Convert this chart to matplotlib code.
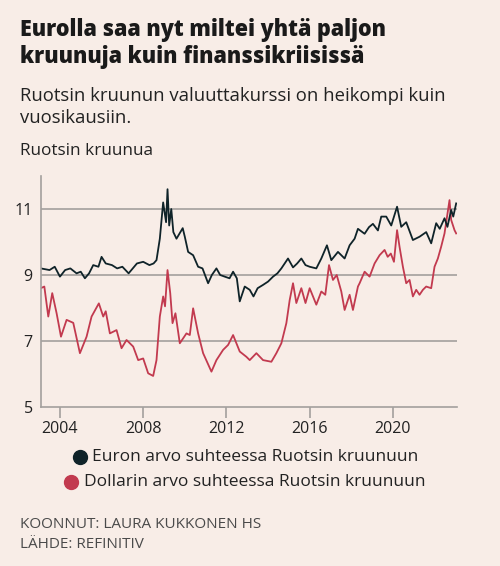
import matplotlib.pyplot as plt
from matplotlib.lines import Line2D

# Euro vs SEK
eur_year = [2003.08, 2003.5, 2003.75, 2004.0, 2004.25, 2004.5, 2004.8, 2005.0, 2005.2, 2005.4,
            2005.6, 2005.85, 2006.0, 2006.2, 2006.5, 2006.75, 2007.0, 2007.3, 2007.5, 2007.7,
            2008.0, 2008.3, 2008.5, 2008.64, 2008.8, 2008.96, 2009.1, 2009.17, 2009.25, 2009.35,
            2009.45, 2009.6, 2009.9, 2010.0, 2010.16, 2010.4, 2010.64, 2010.85, 2011.12, 2011.3,
            2011.52, 2011.7, 2011.92, 2012.15, 2012.32, 2012.5, 2012.64, 2012.88, 2013.12, 2013.3,
            2013.5, 2013.76, 2014.0, 2014.24, 2014.45, 2014.64, 2014.96, 2015.2, 2015.4, 2015.6,
            2015.8, 2016.0, 2016.32, 2016.56, 2016.83, 2017.04, 2017.36, 2017.68, 2017.92, 2018.16,
            2018.32, 2018.64, 2018.85, 2019.04, 2019.28, 2019.44, 2019.68, 2019.92, 2020.2, 2020.4,
            2020.64, 2020.96, 2021.28, 2021.6, 2021.84, 2022.08, 2022.25, 2022.48, 2022.62, 2022.8,
            2022.9, 2023.04]
eur_sek = [9.2, 9.15, 9.25, 8.95, 9.15, 9.2, 9.05, 9.1, 8.9, 9.05,
           9.3, 9.25, 9.55, 9.35, 9.3, 9.2, 9.25, 9.05, 9.2, 9.35,
           9.4, 9.3, 9.35, 9.45, 10.1, 11.2, 10.6, 11.6, 10.5, 11.0,
           10.3, 10.1, 10.42, 10.16, 9.7, 9.6, 9.25, 9.2, 8.75, 9.0,
           9.2, 9.0, 8.95, 8.9, 9.1, 8.9, 8.2, 8.65, 8.55, 8.35,
           8.6, 8.7, 8.8, 8.95, 9.05, 9.2, 9.5, 9.23, 9.35, 9.5,
           9.3, 9.25, 9.2, 9.5, 9.9, 9.45, 9.7, 9.5, 9.9, 10.1,
           10.4, 10.25, 10.45, 10.55, 10.35, 10.77, 10.77, 10.5, 11.07, 10.46,
           10.6, 10.06, 10.16, 10.3, 9.96, 10.57, 10.4, 10.72, 10.46, 10.97,
           10.77, 11.17]

# US dollar vs SEK
usd_year = [2003.08, 2003.25, 2003.44, 2003.63, 2003.84, 2004.05, 2004.32, 2004.64, 2004.96, 2005.28,
            2005.52, 2005.87, 2006.08, 2006.2, 2006.4, 2006.72, 2006.96, 2007.2, 2007.52, 2007.76,
            2008.0, 2008.24, 2008.48, 2008.64, 2008.8, 2008.96, 2009.05, 2009.17, 2009.3, 2009.41,
            2009.55, 2009.76, 2010.08, 2010.24, 2010.4, 2010.64, 2010.88, 2011.28, 2011.52, 2011.84,
            2012.08, 2012.32, 2012.64, 2012.96, 2013.12, 2013.44, 2013.76, 2014.16, 2014.4, 2014.64,
            2014.88, 2015.04, 2015.2, 2015.36, 2015.6, 2015.8, 2016.0, 2016.32, 2016.56, 2016.75,
            2016.93, 2017.12, 2017.3, 2017.52, 2017.68, 2017.92, 2018.08, 2018.32, 2018.4, 2018.64,
            2018.88, 2019.12, 2019.36, 2019.6, 2019.75, 2019.9, 2020.05, 2020.2, 2020.32, 2020.48,
            2020.64, 2020.8, 2020.96, 2021.12, 2021.28, 2021.44, 2021.6, 2021.84, 2022.0, 2022.16,
            2022.32, 2022.48, 2022.72, 2022.8, 2022.96, 2023.04]
usd_sek = [8.6, 8.65, 7.74, 8.45, 7.84, 7.13, 7.64, 7.55, 6.63, 7.13,
           7.74, 8.14, 7.74, 7.9, 7.23, 7.33, 6.78, 7.03, 6.83, 6.42,
           6.47, 6.02, 5.94, 6.42, 7.74, 8.35, 8.05, 9.15, 8.45, 7.54,
           7.84, 6.93, 7.23, 7.18, 7.99, 7.23, 6.63, 6.07, 6.42, 6.73,
           6.88, 7.18, 6.68, 6.52, 6.42, 6.63, 6.42, 6.37, 6.63, 6.93,
           7.54, 8.24, 8.75, 8.15, 8.6, 8.15, 8.6, 8.1, 8.5, 8.4,
           9.3, 8.85, 9.0, 8.5, 7.94, 8.4, 7.94, 8.65, 8.75, 9.1,
           8.95, 9.35, 9.6, 9.76, 9.55, 9.65, 9.4, 10.36, 9.85, 9.25,
           8.75, 8.85, 8.35, 8.55, 8.4, 8.55, 8.65, 8.6, 9.25, 9.5,
           9.86, 10.26, 11.27, 10.67, 10.36, 10.26]

x_ticks = [2004, 2008, 2012, 2016, 2020]
y_ticks = [5, 7, 9, 11]

bg = '#f8ede7'
eur_color = '#0f2329'
usd_color = '#c23a4f'
grid_color = '#a3a09d'

plt.rcParams['font.family'] = ['Open Sans', 'DejaVu Sans']

fig = plt.figure(figsize=(5, 5.66), dpi=100, facecolor=bg)
ax = fig.add_axes([0.082, 0.281, 0.832, 0.408], facecolor=bg)

ax.plot(usd_year, usd_sek, color=usd_color, lw=1.3)
ax.plot(eur_year, eur_sek, color=eur_color, lw=1.3)

ax.set_xlim(2003.09, 2023.08)
ax.set_ylim(5, 12)
ax.set_yticks(y_ticks)
ax.set_xticks(x_ticks)
ax.set_yticklabels([str(v) for v in y_ticks], fontsize=11.5, color='#222222')
ax.set_xticklabels([str(v) for v in x_ticks], fontsize=11.5, color='#222222')
for v in y_ticks[1:]:
    ax.axhline(v, color=grid_color, lw=1.2, zorder=0)
for s in ['top', 'right']:
    ax.spines[s].set_visible(False)
ax.spines['left'].set_color(grid_color)
ax.spines['bottom'].set_color(grid_color)
ax.spines['left'].set_linewidth(1.2)
ax.spines['bottom'].set_linewidth(1.2)
ax.tick_params(axis='y', length=0, pad=6)
ax.tick_params(axis='x', length=8, width=1.2, color=grid_color, pad=2)

# Titles
fig.text(0.04, 0.968, 'Eurolla saa nyt miltei yhtä paljon\nkruunuja kuin finanssikriisissä',
         fontsize=15.5, fontweight='heavy', color='#1a1a1a', va='top', linespacing=1.15)
fig.text(0.04, 0.846, 'Ruotsin kruunun valuuttakurssi on heikompi kuin\nvuosikausiin.',
         fontsize=13.3, color='#222222', va='top', linespacing=1.3)
fig.text(0.04, 0.733, 'Ruotsin kruunua', fontsize=12.3, color='#222222', va='center')

# Legend
fig.text(0.51, 0.192, 'Euron arvo suhteessa Ruotsin kruunuun', fontsize=12.5,
         color='#222222', ha='center', va='center')
fig.text(0.51, 0.148, 'Dollarin arvo suhteessa Ruotsin kruunuun', fontsize=12.5,
         color='#222222', ha='center', va='center')
fig.add_artist(Line2D([0.16], [0.193], transform=fig.transFigure, marker='o',
                      markersize=10, color=eur_color, lw=0))
fig.add_artist(Line2D([0.142], [0.149], transform=fig.transFigure, marker='o',
                      markersize=10, color=usd_color, lw=0))

# Footer
fig.text(0.04, 0.056, 'KOONNUT: LAURA KUKKONEN HS\nLÄHDE: REFINITIV', fontsize=11,
         color='#4a4a4a', va='center', linespacing=1.5)

fig.savefig('out.png', dpi=100, facecolor=bg)
